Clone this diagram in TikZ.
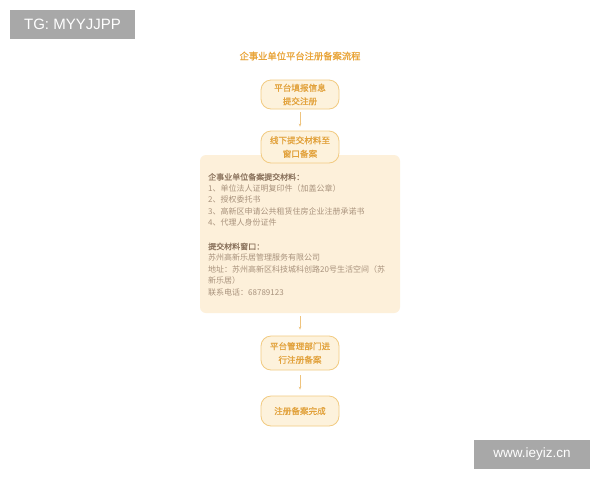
\documentclass[tikz,border=0pt]{standalone}
\usepackage{fontspec}
\newfontfamily\cjk{Noto Sans CJK SC}
\newfontfamily\cjkb[FakeBold=0.9]{Noto Sans CJK SC}
\newfontfamily\lat{Liberation Sans}
\usetikzlibrary{arrows.meta}
\definecolor{tagbg}{HTML}{A8A8A8}
\definecolor{titlec}{HTML}{E9A53A}
\definecolor{boxtxt}{HTML}{E2A23C}
\definecolor{boxline}{HTML}{F2CB82}
\definecolor{boxfill}{HTML}{FDF2DC}
\definecolor{panelfill}{HTML}{FDF0DA}
\definecolor{panelhead}{HTML}{8E7660}
\definecolor{paneltxt}{HTML}{A8927C}
\definecolor{arrowc}{HTML}{EFC47E}
\begin{document}
\begin{tikzpicture}[x=1pt,y=-1pt,
  tag/.style={fill=tagbg,text=white,font=\lat\fontsize{15}{17}\selectfont,inner sep=0pt,minimum height=29pt},
  stepbox/.style={draw=boxline,line width=0.8pt,fill=boxfill,rounded corners=10pt,minimum width=78pt,
     text=boxtxt,align=center,font=\cjkb\fontsize{8.6}{13.5}\selectfont,inner sep=0pt},
  flow/.style={draw=arrowc,line width=0.45pt,-{Stealth[length=3pt,width=2.6pt]}}]
\useasboundingbox (0,0) rectangle (600,480);
\fill[white] (0,0) rectangle (600,480);
% tags
\node[tag,minimum width=125pt] (tg) at (72.5,24.5) {TG: MYYJJPP};
\node[tag,minimum width=116pt,font=\lat\fontsize{13.5}{15}\selectfont] (wm) at (532,454.5) {www.ieyiz.cn};
% title
\node[text=titlec,font=\cjkb\fontsize{9.3}{11}\selectfont] (title) at (300,56) {企事业单位平台注册备案流程};
% panel
\node[fill=panelfill,rounded corners=6pt,minimum width=200pt,minimum height=158pt,inner sep=0pt] (panel) at (300,234) {};
\node[anchor=north west,align=left,inner sep=0pt,text=paneltxt,font=\cjk\fontsize{8}{11.5}\selectfont] (ptext) at (208,173)
 {{\color{panelhead}\cjkb 企事业单位备案提交材料：}\\
  1、单位法人证明复印件（加盖公章）\\
  2、授权委托书\\
  3、高新区申请公共租赁住房企业注册承诺书\\
  4、代理人身份证件\\[12pt]
  {\color{panelhead}\cjkb 提交材料窗口：}\\
  苏州高新乐居管理服务有限公司\\
  地址：苏州高新区科技城科创路20号生活空间（苏\\
  新乐居）\\
  联系电话：68789123};
% steps
\node[stepbox,minimum height=29pt] (s1) at (300,94.5) {平台填报信息\\提交注册};
\node[stepbox,minimum height=32pt] (s2) at (300,147) {线下提交材料至\\窗口备案};
\node[stepbox,minimum height=34pt] (s3) at (300,353) {平台管理部门进\\行注册备案};
\node[stepbox,minimum height=30pt] (s4) at (300,411) {注册备案完成};
% arrows
\draw[flow,shorten <=3pt,shorten >=4pt] (s1) -- (s2);
\draw[flow,shorten <=3pt,shorten >=6pt] (panel) -- (s3);
\draw[flow,shorten <=5pt,shorten >=6pt] (s3) -- (s4);
\end{tikzpicture}
\end{document}
